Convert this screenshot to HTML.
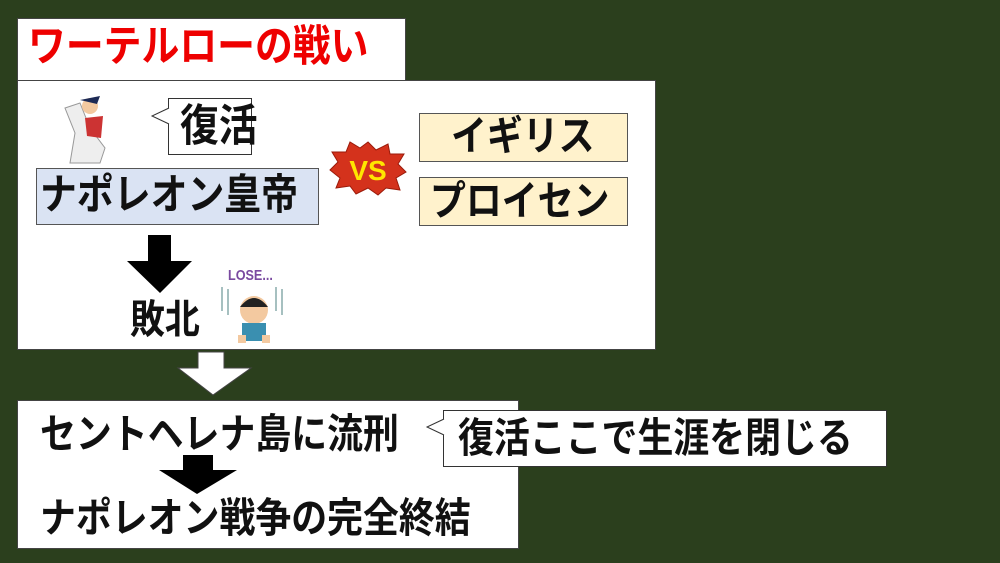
<!DOCTYPE html>
<html><head><meta charset="utf-8"><style>
body{margin:0;width:1000px;height:563px;background:#2b3f1d;position:relative;overflow:hidden;font-family:"Liberation Sans","Noto Sans CJK JP",sans-serif;font-weight:bold}
.b{position:absolute;box-sizing:border-box}
.t{position:absolute;white-space:nowrap;line-height:1;color:#111;transform-origin:0 0;transform:scale(0.97,1.1)}
</style></head><body>
<div class="b" style="left:17px;top:18px;width:389px;height:64px;background:#fff;border:1px solid #444"></div>
<div class="t" style="left:28px;top:26px;font-size:39px;color:#e00">ワーテルローの戦い</div>
<div class="b" style="left:17px;top:80px;width:639px;height:270px;background:#fff;border:1px solid #444"></div>
<svg class="b" style="left:55px;top:88px" width="60" height="80"><path d="M10 20 L25 15 L35 40 L50 60 L45 75 L15 75 L20 45Z" fill="#eee" stroke="#999"/><circle cx="35" cy="18" r="8" fill="#f3c9a0"/><path d="M25 12 L45 8 L42 16Z" fill="#1d2a55"/><path d="M30 30 L48 28 L46 50 L32 48Z" fill="#c33"/></svg>
<div class="b" style="left:168px;top:98px;width:84px;height:57px;background:#fff;border:1px solid #333"></div>
<svg class="b" style="left:150px;top:106px" width="20" height="20"><path d="M19 2 L2 10 L19 18" fill="#fff" stroke="#333"/></svg>
<div class="t" style="left:180px;top:104px;font-size:40px">復活</div>
<div class="b" style="left:36px;top:168px;width:283px;height:57px;background:#dae3f3;border:1px solid #555"></div>
<div class="t" style="left:40px;top:175px;font-size:38px">ナポレオン皇帝</div>
<svg class="b" style="left:328px;top:140px" width="80" height="56"><polygon points="40,2 48,10 60,4 62,14 76,14 70,24 78,32 68,38 72,50 58,48 50,55 40,48 28,54 22,46 8,48 12,38 2,30 10,22 4,12 18,12 22,2 32,8" fill="#d4321c" stroke="#9a1a0a"/><text x="40" y="40" text-anchor="middle" font-size="28" font-weight="bold" fill="#ffe600" font-family="Liberation Sans">VS</text></svg>
<div class="b" style="left:419px;top:113px;width:209px;height:49px;background:#fff2cc;border:1px solid #555"></div>
<div class="t" style="left:451px;top:116px;font-size:37px">イギリス</div>
<div class="b" style="left:419px;top:177px;width:209px;height:49px;background:#fff2cc;border:1px solid #555"></div>
<div class="t" style="left:430px;top:181px;font-size:37px">プロイセン</div>
<svg class="b" style="left:127px;top:235px" width="66" height="60"><polygon points="21,0 44,0 44,26 65,26 33,58 0,26 21,26" fill="#000"/></svg>
<div class="t" style="left:130px;top:300px;font-size:36px">敗北</div>
<div class="t" style="left:228px;top:268px;font-size:13px;color:#7a4aa0">LOSE...</div>
<svg class="b" style="left:218px;top:285px" width="70" height="62"><g stroke="#8aa" stroke-width="1.5"><line x1="4" y1="2" x2="4" y2="26"/><line x1="10" y1="4" x2="10" y2="30"/><line x1="58" y1="2" x2="58" y2="26"/><line x1="64" y1="4" x2="64" y2="30"/></g><circle cx="36" cy="25" r="14" fill="#f3c9a0"/><path d="M22 22 Q36 4 50 22Z" fill="#222"/><rect x="24" y="38" width="24" height="18" fill="#3a8fb0"/><rect x="20" y="50" width="8" height="8" fill="#f3c9a0"/><rect x="44" y="50" width="8" height="8" fill="#f3c9a0"/></svg>
<svg class="b" style="left:176px;top:351px" width="78" height="46"><polygon points="22,1 48,1 48,17 75,17 37,44 2,17 22,17" fill="#fff" stroke="#444"/></svg>
<div class="b" style="left:17px;top:400px;width:502px;height:149px;background:#fff;border:1px solid #444"></div>
<div class="t" style="left:40px;top:414px;font-size:37px">セントヘレナ島に流刑</div>
<svg class="b" style="left:157px;top:455px" width="82" height="40"><polygon points="26,0 56,0 56,15 80,15 40,39 2,15 26,15" fill="#000"/></svg>
<div class="t" style="left:40px;top:498px;font-size:37px">ナポレオン戦争の完全終結</div>
<div class="b" style="left:443px;top:410px;width:444px;height:57px;background:#fff;border:1px solid #333"></div>
<svg class="b" style="left:425px;top:417px" width="20" height="20"><path d="M19 2 L2 10 L19 18" fill="#fff" stroke="#333"/></svg>
<div class="t" style="left:458px;top:418px;font-size:37px">復活ここで生涯を閉じる</div>
</body></html>
